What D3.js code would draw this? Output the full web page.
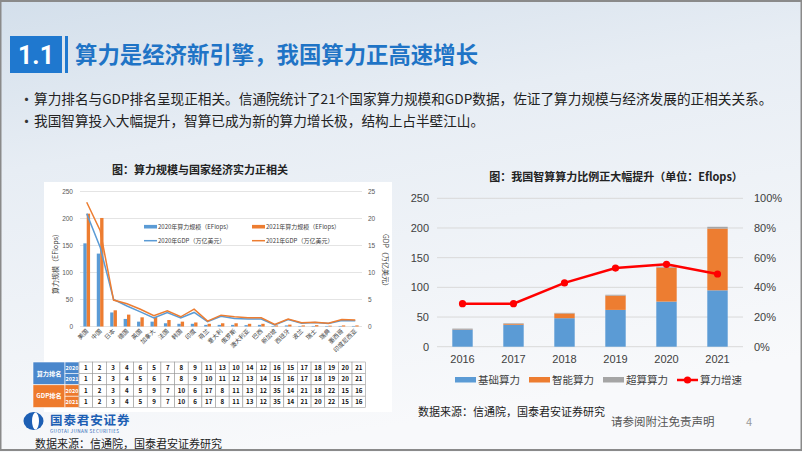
<!DOCTYPE html>
<html>
<head>
<meta charset="utf-8">
<script src="https://cdn.jsdelivr.net/npm/d3@7"></script>
<style>
  body { margin: 0; overflow: hidden; }
  svg { display: block; font-family: "Noto Sans CJK SC", "Noto Sans", sans-serif; }
</style>
</head>
<body>
<svg id="slide" width="802" height="452"></svg>
<script>
// ---- left chart data (算力规模 vs GDP) ----
const countries = ['美国','中国','日本','德国','英国','加拿大','法国','韩国','印度','荷兰','意大利',
  '俄罗斯','澳大利亚','巴西','新加坡','西班牙','波兰','瑞士','瑞典','墨西哥','印度尼西亚'];
const power2020 = [154,135,26,14,9,9,6,5,5,3,3,3,2.5,3,1,2,1,1,1,1,1];
const power2021 = [209,201,30,22,17,18,12,9,7.5,5,6,6,5,5,2,3.5,2,2.5,1.5,2,2];
const gdp2020 = [20.9,14.7,5.0,3.8,2.7,1.6,2.6,1.6,2.6,0.9,1.9,1.5,1.4,1.4,0.3,1.3,0.6,0.75,0.54,1.1,1.06];
const gdp2021 = [23.0,17.8,4.9,4.2,3.2,2.0,2.9,1.8,3.2,1.0,2.1,1.8,1.6,1.6,0.4,1.4,0.7,0.8,0.6,1.3,1.2];
const leftTicks = [0,50,100,150,200,250];
const rightTicks = [0,5,10,15,20,25];

// ---- ranking table ----
const rankPower2020 = [1,2,3,4,6,5,7,8,9,11,13,10,14,12,16,15,17,18,19,20,21];
const rankPower2021 = [1,2,3,4,5,6,7,8,9,10,11,12,13,14,15,16,17,18,19,20,21];
const rankGdp2020 = [1,2,3,4,5,9,7,10,6,17,8,11,13,12,35,14,21,18,22,15,16];
const rankGdp2021 = [1,2,3,4,5,9,7,10,6,17,8,11,13,12,35,14,21,20,22,15,16];

// ---- right chart data (我国算力结构) ----
const years = ['2016','2017','2018','2019','2020','2021'];
const basic = [29,37,48,62,76,95];
const intel = [0.5,1.5,8,24,57,104];
const superc = [1,1,1,1.5,2,3];
const growth = [0.29,0.29,0.43,0.53,0.555,0.49];
const barTicks = [0,50,100,150,200,250];
const pctTicks = [0,0.2,0.4,0.6,0.8,1];

const W = 802, H = 452;
const blue = '#5b9bd5', orange = '#ed7d31', gray = '#a5a5a5';
const svg = d3.select('#slide');

// background
const defs = svg.append('defs');
const bg = defs.append('linearGradient').attr('id', 'bg')
  .attr('x1', 0).attr('y1', 0).attr('x2', 0.3).attr('y2', 1);
bg.append('stop').attr('offset', '0%').attr('stop-color', '#d3dfeb');
bg.append('stop').attr('offset', '35%').attr('stop-color', '#e7edf4');
bg.append('stop').attr('offset', '100%').attr('stop-color', '#f8f9fb');
svg.append('rect').attr('width', W).attr('height', H).attr('fill', 'url(#bg)');
svg.append('rect').attr('x', 0.5).attr('y', 1).attr('width', W - 1).attr('height', H - 3)
  .attr('fill', 'none').attr('stroke', '#8a8a8a').attr('stroke-width', 2);

// title
svg.append('rect').attr('x', 10).attr('y', 36).attr('width', 52).attr('height', 37).attr('fill', '#1f78cf');
svg.append('text').attr('x', 36).attr('y', 64).attr('text-anchor', 'middle')
  .attr('fill', '#fff').attr('font-size', 25).attr('font-weight', 'bold')
  .attr('font-family', 'Roboto, sans-serif').text('1.1');
svg.append('rect').attr('x', 65).attr('y', 36).attr('width', 3).attr('height', 37).attr('fill', '#1f78cf');
svg.append('text').attr('x', 75).attr('y', 63).attr('fill', '#1f74c6')
  .attr('font-size', 22.4).attr('font-weight', 'bold').text('算力是经济新引擎，我国算力正高速增长');

// bullets
const bullets = ['算力排名与GDP排名呈现正相关。信通院统计了21个国家算力规模和GDP数据，佐证了算力规模与经济发展的正相关关系。',
  '我国智算投入大幅提升，智算已成为新的算力增长极，结构上占半壁江山。'];
bullets.forEach((t, i) => {
  svg.append('text').attr('x', 19).attr('y', 105 + i * 22).attr('font-size', 15).attr('fill', '#333').text('•');
  svg.append('text').attr('x', 34).attr('y', 104 + i * 22).attr('font-size', 13.65).attr('fill', '#222').text(t);
});

// ================= left chart =================
svg.append('rect').attr('x', 44).attr('y', 182).attr('width', 348).attr('height', 230).attr('fill', '#fff');
svg.append('text').attr('x', 200).attr('y', 174).attr('text-anchor', 'middle')
  .attr('font-size', 11).attr('font-weight', 'bold').attr('fill', '#222').text('图：算力规模与国家经济实力正相关');

const L = {left: 80, right: 362, top: 191.5, bottom: 326.5};
const xL = d3.scaleBand().domain(countries).range([L.left, L.right]).paddingInner(0.5).paddingOuter(0.25);
const xIn = d3.scaleBand().domain(['2020', '2021']).range([0, xL.bandwidth()]);
const yL = d3.scaleLinear().domain([0, 250]).range([L.bottom, L.top]);
const yG = d3.scaleLinear().domain([0, 25]).range([L.bottom, L.top]);

const gl = svg.append('g');
gl.selectAll('line.grid').data(leftTicks).join('line')
  .attr('x1', L.left).attr('x2', L.right).attr('y1', d => yL(d)).attr('y2', d => yL(d))
  .attr('stroke', '#d9d9d9').attr('stroke-width', 0.7);

const axL = gl.append('g').attr('transform', `translate(${L.left},0)`)
  .call(d3.axisLeft(yL).tickValues(leftTicks).tickSize(0).tickPadding(7));
const axR = gl.append('g').attr('transform', `translate(${L.right},0)`)
  .call(d3.axisRight(yG).tickValues(rightTicks).tickSize(0).tickPadding(6));
[axL, axR].forEach(a => {
  a.select('.domain').remove();
  a.selectAll('text').attr('font-size', 6.5).attr('fill', '#595959').attr('font-family', 'inherit');
});

const groups = gl.selectAll('g.cty').data(countries).join('g')
  .attr('transform', d => `translate(${xL(d)},0)`);
groups.append('rect').attr('x', xIn('2020')).attr('width', xIn.bandwidth())
  .attr('y', (d, i) => yL(power2020[i])).attr('height', (d, i) => L.bottom - yL(power2020[i])).attr('fill', blue);
groups.append('rect').attr('x', xIn('2021')).attr('width', xIn.bandwidth())
  .attr('y', (d, i) => yL(power2021[i])).attr('height', (d, i) => L.bottom - yL(power2021[i])).attr('fill', orange);

const cx = c => xL(c) + xL.bandwidth() / 2;
[[gdp2020, blue], [gdp2021, orange]].forEach(([vals, col]) => {
  gl.append('path').datum(countries)
    .attr('fill', 'none').attr('stroke', col).attr('stroke-width', 1.5)
    .attr('d', d3.line().x(c => cx(c)).y((c, i) => yG(vals[i])));
});

gl.selectAll('text.xl').data(countries).join('text')
  .attr('transform', d => `translate(${cx(d) + 2},${L.bottom + 5}) rotate(-45)`)
  .attr('text-anchor', 'end').attr('font-size', 6).attr('fill', '#404040').text(d => d);

gl.append('text').attr('transform', `translate(58,${(L.top + L.bottom) / 2 + 3}) rotate(-90)`)
  .attr('text-anchor', 'middle').attr('font-size', 7).attr('fill', '#404040').text('算力规模（EFlops）');
gl.append('text').attr('transform', `translate(383,${(L.top + L.bottom) / 2 + 3}) rotate(90)`)
  .attr('text-anchor', 'middle').attr('font-size', 7).attr('fill', '#404040').text('GDP（万亿美元）');

// left legend
const legL = [
  {t: '2020年算力规模（EFlops）', c: blue, bar: true, x: 144, y: 226.7},
  {t: '2021年算力规模（EFlops）', c: orange, bar: true, x: 252, y: 226.7},
  {t: '2020年GDP（万亿美元）', c: blue, bar: false, x: 144, y: 240.7},
  {t: '2021年GDP（万亿美元）', c: orange, bar: false, x: 252, y: 240.7}
];
legL.forEach(d => {
  if (d.bar) gl.append('rect').attr('x', d.x).attr('y', d.y - 1.8).attr('width', 13).attr('height', 3.6).attr('fill', d.c);
  else gl.append('line').attr('x1', d.x).attr('x2', d.x + 13).attr('y1', d.y).attr('y2', d.y)
    .attr('stroke', d.c).attr('stroke-width', 1.5);
  gl.append('text').attr('x', d.x + 14).attr('y', d.y + 2.2).attr('font-size', 6).attr('fill', '#404040').text(d.t);
});

// ranking table
const T = {x: 33, y: 362, labelW: 32, yearW: 14, cellW: (365.7 - 79) / 21, rowH: 11.4};
const rows = [
  {label: '算力排名', year: '2020', vals: rankPower2020, col: '#4a87cc'},
  {label: '算力排名', year: '2021', vals: rankPower2021, col: '#4a87cc'},
  {label: 'GDP排名', year: '2020', vals: rankGdp2020, col: '#ee7a2c'},
  {label: 'GDP排名', year: '2021', vals: rankGdp2021, col: '#ee7a2c'}
];
const tg = svg.append('g');
[0, 2].forEach(r => {
  tg.append('rect').attr('x', T.x).attr('y', T.y + r * T.rowH).attr('width', T.labelW).attr('height', 2 * T.rowH)
    .attr('fill', rows[r].col).attr('stroke', '#fff').attr('stroke-width', 0.6);
  tg.append('text').attr('x', T.x + T.labelW / 2).attr('y', T.y + (r + 1) * T.rowH + 2.2)
    .attr('text-anchor', 'middle').attr('font-size', 6.2).attr('font-weight', 'bold').attr('fill', '#fff').text(rows[r].label);
});
rows.forEach((row, r) => {
  const y = T.y + r * T.rowH;
  tg.append('rect').attr('x', T.x + T.labelW).attr('y', y).attr('width', T.yearW).attr('height', T.rowH)
    .attr('fill', row.col).attr('stroke', '#fff').attr('stroke-width', 0.6);
  tg.append('text').attr('x', T.x + T.labelW + T.yearW / 2).attr('y', y + T.rowH / 2 + 2)
    .attr('text-anchor', 'middle').attr('font-size', 5.5).attr('font-weight', 'bold').attr('fill', '#fff').text(row.year);
  row.vals.forEach((v, j) => {
    const x = T.x + T.labelW + T.yearW + j * T.cellW;
    tg.append('rect').attr('x', x).attr('y', y).attr('width', T.cellW).attr('height', T.rowH)
      .attr('fill', '#fff').attr('stroke', '#9a9a9a').attr('stroke-width', 0.6);
    tg.append('text').attr('x', x + T.cellW / 2).attr('y', y + T.rowH / 2 + 2.2)
      .attr('text-anchor', 'middle').attr('font-size', 6.2).attr('font-weight', 'bold').attr('fill', '#111').text(v);
  });
});

// logo + source
svg.append('ellipse').attr('cx', 33.5).attr('cy', 421).attr('rx', 10).attr('ry', 9).attr('fill', '#1d5fb4');
svg.append('ellipse').attr('cx', 35.5).attr('cy', 421).attr('rx', 3.5).attr('ry', 8.6).attr('fill', '#fff');
svg.append('text').attr('x', 50).attr('y', 424.5).attr('font-size', 12.5).attr('font-weight', 'bold')
  .attr('fill', '#1d5fb4').attr('letter-spacing', 0.9).text('国泰君安证券');
svg.append('text').attr('x', 50).attr('y', 433.3).attr('font-size', 4.6).attr('fill', '#1d5fb4')
  .attr('letter-spacing', 0.45).text('GUOTAI JUNAN SECURITIES');
svg.append('text').attr('x', 35).attr('y', 448).attr('font-size', 11).attr('fill', '#222').text('数据来源：信通院，国泰君安证券研究');

// ================= right chart =================
svg.append('text').attr('x', 616).attr('y', 181).attr('text-anchor', 'middle')
  .attr('font-size', 11).attr('font-weight', 'bold').attr('fill', '#222').text('图：我国智算算力比例正大幅提升（单位：Eflops）');

const R = {left: 437, right: 743, top: 198.3, bottom: 346.7};
const xR = d3.scaleBand().domain(years).range([R.left, R.right]).paddingInner(0.6).paddingOuter(0.3);
const yB = d3.scaleLinear().domain([0, 250]).range([R.bottom, R.top]);
const yP = d3.scaleLinear().domain([0, 1]).range([R.bottom, R.top]);

const gr = svg.append('g');
gr.selectAll('line.grid').data(barTicks).join('line')
  .attr('x1', R.left).attr('x2', R.right).attr('y1', d => yB(d)).attr('y2', d => yB(d))
  .attr('stroke', '#d9d9d9').attr('stroke-width', 1);

const axB = gr.append('g').attr('transform', `translate(${R.left},0)`)
  .call(d3.axisLeft(yB).tickValues(barTicks).tickSize(0).tickPadding(8));
const axP = gr.append('g').attr('transform', `translate(${R.right},0)`)
  .call(d3.axisRight(yP).tickValues(pctTicks).tickSize(0).tickPadding(11).tickFormat(d3.format('.0%')));
const axX = gr.append('g').attr('transform', `translate(0,${R.bottom})`)
  .call(d3.axisBottom(xR).tickSize(0).tickPadding(9));
[axB, axP, axX].forEach(a => {
  a.select('.domain').remove();
  a.selectAll('text').attr('font-size', 11).attr('fill', '#404040').attr('font-family', 'inherit');
});

const tableR = years.map((y, i) => ({year: y, basic: basic[i], intel: intel[i], superc: superc[i]}));
const stack = d3.stack().keys(['basic', 'intel', 'superc'])(tableR);
const colR = {basic: blue, intel: orange, superc: gray};
gr.selectAll('g.layer').data(stack).join('g').attr('fill', d => colR[d.key])
  .selectAll('rect').data(d => d).join('rect')
  .attr('x', d => xR(d.data.year)).attr('width', xR.bandwidth())
  .attr('y', d => yB(d[1])).attr('height', d => yB(d[0]) - yB(d[1]));

const cxR = y => xR(y) + xR.bandwidth() / 2;
gr.append('path').datum(years).attr('fill', 'none').attr('stroke', '#ff0000').attr('stroke-width', 2.5)
  .attr('d', d3.line().x(y => cxR(y)).y((y, i) => yP(growth[i])));
gr.selectAll('circle.pt').data(years).join('circle')
  .attr('cx', y => cxR(y)).attr('cy', (y, i) => yP(growth[i])).attr('r', 3.6).attr('fill', '#ff0000');

// right legend
const legR = [
  {t: '基础算力', c: blue, x: 455, bar: true},
  {t: '智能算力', c: orange, x: 529, bar: true},
  {t: '超算算力', c: gray, x: 603, bar: true},
  {t: '算力增速', c: '#ff0000', x: 677, bar: false}
];
legR.forEach(d => {
  if (d.bar) gr.append('rect').attr('x', d.x).attr('y', 377).attr('width', 21).attr('height', 5.5).attr('fill', d.c);
  else {
    gr.append('line').attr('x1', d.x).attr('x2', d.x + 21).attr('y1', 380).attr('y2', 380)
      .attr('stroke', d.c).attr('stroke-width', 2.5);
    gr.append('circle').attr('cx', d.x + 10.5).attr('cy', 380).attr('r', 3.6).attr('fill', d.c);
  }
  gr.append('text').attr('x', d.x + 23).attr('y', 384).attr('font-size', 10.5).attr('fill', '#404040').text(d.t);
});

svg.append('text').attr('x', 418).attr('y', 416).attr('font-size', 11).attr('fill', '#222').text('数据来源：信通院，国泰君安证券研究');
svg.append('text').attr('x', 611).attr('y', 426).attr('font-size', 11.5).attr('fill', '#555').text('请参阅附注免责声明');
svg.append('text').attr('x', 746).attr('y', 426).attr('font-size', 11).attr('fill', '#999').text('4');
</script>
</body>
</html>
